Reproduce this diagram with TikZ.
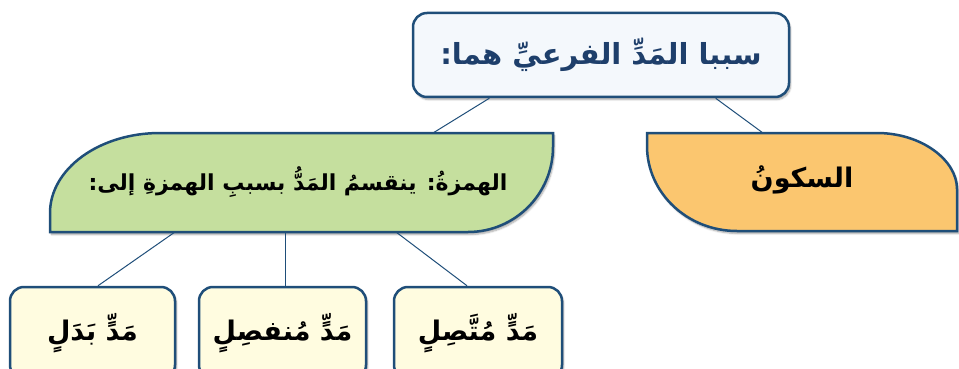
\documentclass[tikz,border=0pt]{standalone}
\usepackage{fontspec}
\usetikzlibrary{calc,shadows.blur}
\newfontfamily\arabicfont[Script=Arabic]{DejaVu Sans}
\TeXXeTstate=1
\definecolor{navy}{HTML}{1F4E79}
\definecolor{topfill}{HTML}{F4F8FC}
\definecolor{greenfill}{HTML}{C5DF9E}
\definecolor{orangefill}{HTML}{FBC66F}
\definecolor{yellowfill}{HTML}{FFFCE0}
\definecolor{titletext}{HTML}{1E3F6B}
\tikzset{
  myshadow/.style={blur shadow={shadow xshift=1.5pt, shadow yshift=-2.5pt, shadow blur steps=6, shadow opacity=35}},
  box/.style={draw=navy, line width=2.5pt, rounded corners=14pt, myshadow, inner sep=0pt},
  leaf/.style={draw=navy, line width=2.5pt, myshadow},
  link/.style={draw=navy, line width=1pt},
  lbl/.style={font=\arabicfont\bfseries, text=black, inner sep=0pt},
}
\begin{document}
\begin{tikzpicture}[x=1pt,y=-1pt]
\useasboundingbox (0,0) rectangle (959,369);
% leaf shapes
\path[leaf, fill=greenfill] (50,232) -- (50,213) .. controls (50,168.8) and (99.3,133) .. (160,133)
  -- (553,133) -- (553,147) .. controls (553,193.9) and (514.9,232) .. (468,232) -- cycle;
\path[leaf, fill=orangefill] (647,133) -- (877,133) .. controls (921.2,133) and (957,159.9) .. (957,189)
  -- (957,231) -- (737,231) .. controls (687.3,231) and (647,192.9) .. (647,146) -- cycle;
\coordinate (gtop) at (433,133);
\coordinate (otop) at (763,133);
\coordinate (gb1) at (175,232);
\coordinate (gb2) at (285,232);
\coordinate (gb3) at (396,232);
\node[lbl, font=\arabicfont\bfseries\fontsize{22}{26}\selectfont] (hamza) at (298,182) {\beginR الهمزةُ: ينقسمُ المَدُّ بسببِ الهمزةِ إلى:\endR};
\node[lbl, font=\arabicfont\bfseries\fontsize{27}{31}\selectfont] (sukun) at (802,180) {\beginR السكونُ\endR};
% top box
\node[box, fill=topfill, minimum width=376pt, minimum height=84pt, text=titletext,
  font=\arabicfont\bfseries\fontsize{29}{33}\selectfont] (top) at (601,55) {\beginR سببا المَدِّ الفرعيِّ هما:\endR};
% bottom boxes
\node[box, fill=yellowfill, minimum width=165pt, minimum height=92pt, font=\arabicfont\bfseries\fontsize{27}{31}\selectfont] (b1) at (92.5,333) {\beginR مَدٍّ بَدَلٍ\endR};
\node[box, fill=yellowfill, minimum width=167pt, minimum height=92pt, font=\arabicfont\bfseries\fontsize{27}{31}\selectfont] (b2) at (282.5,333) {\beginR مَدٍّ مُنفصِلٍ\endR};
\node[box, fill=yellowfill, minimum width=168pt, minimum height=92pt, font=\arabicfont\bfseries\fontsize{27}{31}\selectfont] (b3) at (478,333) {\beginR مَدٍّ مُتَّصِلٍ\endR};
% connectors
\draw[link] ($(top.south west)!0.205!(top.south east)$) -- (gtop);
\draw[link] ($(top.south west)!0.803!(top.south east)$) -- (otop);
\draw[link] (gb1) -- (b1.north -| 98,0);
\draw[link] (gb2) -- (b2.north -| gb2);
\draw[link] (gb3) -- (b3.north -| 467,0);
\end{tikzpicture}
\end{document}
